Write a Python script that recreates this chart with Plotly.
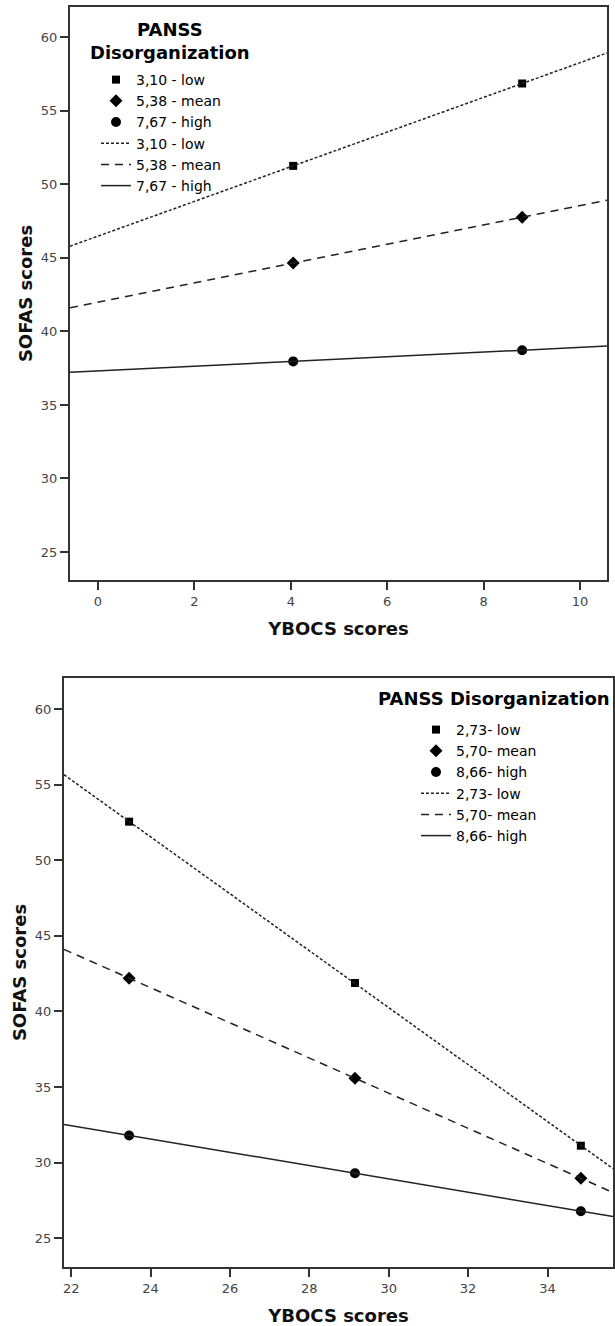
import numpy as np
import plotly.graph_objects as go

# ---------------- data ----------------
# Top panel
top_x = [4.05, 8.80]
top_low = [51.25, 56.85]
top_mean = [44.64, 47.76]
top_high = [37.96, 38.72]
top_names = ["3,10 - low", "5,38 - mean", "7,67 - high"]
top_xrange = [-0.58, 10.56]
top_xticks = [0, 2, 4, 6, 8, 10]

# Bottom panel
bot_x = [23.46, 29.15, 34.84]
bot_low = [52.55, 41.88, 31.12]
bot_mean = [42.20, 35.58, 28.97]
bot_high = [31.80, 29.30, 26.79]
bot_names = ["2,73- low", "5,70- mean", "8,66- high"]
bot_xrange = [21.82, 35.65]
bot_xticks = [22, 24, 26, 28, 30, 32, 34]

y_range = [23.1, 62.05]
y_ticks = [25, 30, 35, 40, 45, 50, 55, 60]

symbols = ["square", "diamond", "circle"]
marker_sizes = [8, 10, 10]
dashes = ["3px,2px", "8px,6px", "solid"]

W, H = 615, 1326
FONT = "DejaVu Sans"
INK = "#222222"
FRAME = "#333333"

fig = go.Figure()


def add_panel(xs, series, names, xref, yref, legend, xrange_):
    # markers first (legend order), then fitted lines across full axis range
    for s, nm, sym, ms in zip(series, names, symbols, marker_sizes):
        fig.add_trace(go.Scatter(
            x=xs, y=s, mode="markers", name=nm,
            marker=dict(symbol=sym, size=ms, color="black"),
            xaxis=xref, yaxis=yref, legend=legend,
        ))
    for s, nm, dash in zip(series, names, dashes):
        k, b = np.polyfit(xs, s, 1)
        xl = np.array(xrange_)
        fig.add_trace(go.Scatter(
            x=xl, y=k * xl + b, mode="lines", name=nm,
            line=dict(color=INK, width=1.5, dash=dash),
            xaxis=xref, yaxis=yref, legend=legend,
        ))


add_panel(top_x, [top_low, top_mean, top_high], top_names, "x", "y", "legend", top_xrange)
add_panel(bot_x, [bot_low, bot_mean, bot_high], bot_names, "x2", "y2", "legend2", bot_xrange)

tickfont = dict(family=FONT, size=13, color="#444444")
titlefont = dict(family=FONT, size=18, color="#111111", weight="bold")
legtitlefont = dict(family=FONT, size=18, color="black", weight="bold")

axis_common = dict(
    showgrid=False, zeroline=False, showline=True, linecolor=FRAME, linewidth=2,
    mirror=True, ticks="outside", ticklen=8, tickwidth=2, tickcolor=FRAME,
    tickfont=tickfont, automargin=False,
)

fig.update_layout(
    width=W, height=H,
    margin=dict(l=0, r=0, t=0, b=0),
    paper_bgcolor="white", plot_bgcolor="white",
    font=dict(family=FONT, color="black"),
    xaxis=dict(domain=[70 / W, 607 / W], range=top_xrange, tickvals=top_xticks,
               title=dict(text="YBOCS scores", font=titlefont, standoff=15),
               anchor="y", **axis_common),
    yaxis=dict(domain=[1 - 580 / H, 1 - 7 / H], range=y_range, tickvals=y_ticks,
               title=dict(text="SOFAS scores", font=titlefont, standoff=4),
               anchor="x", **axis_common),
    xaxis2=dict(domain=[64 / W, 613 / W], range=bot_xrange, tickvals=bot_xticks,
                title=dict(text="YBOCS scores", font=titlefont, standoff=15),
                anchor="y2", **axis_common),
    yaxis2=dict(domain=[1 - 1267 / H, 1 - 678 / H], range=y_range, tickvals=y_ticks,
                title=dict(text="SOFAS scores", font=titlefont, standoff=4),
                anchor="x2", **axis_common),
    legend=dict(
        x=96 / W, y=1 - 64 / H, xanchor="left", yanchor="top",
        bgcolor="rgba(0,0,0,0)", borderwidth=0,
        font=dict(family=FONT, size=14, color="black"),
    ),
    legend2=dict(
        x=416 / W, y=1 - 714 / H, xanchor="left", yanchor="top",
        bgcolor="rgba(0,0,0,0)", borderwidth=0,
        font=dict(family=FONT, size=14, color="black"),
    ),
    annotations=[
        dict(text="PANSS<br>Disorganization", xref="paper", yref="paper",
             x=170 / W, y=1 - 41 / H, xanchor="center", yanchor="middle",
             align="center", showarrow=False, font=legtitlefont),
        dict(text="PANSS Disorganization", xref="paper", yref="paper",
             x=612 / W, y=1 - 698 / H, xanchor="right", yanchor="middle",
             showarrow=False, font=legtitlefont),
    ],
)

fig.write_html("out.html", config={"displayModeBar": False},
               post_script="document.body.style.margin='0';")
